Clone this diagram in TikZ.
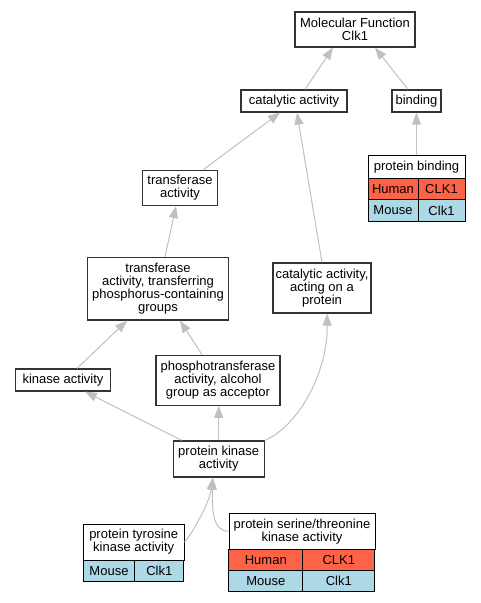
\documentclass[tikz,border=0pt]{standalone}
\usepackage{fontspec}
\setmainfont{Liberation Sans}
\usetikzlibrary{arrows.meta}
\definecolor{edgegray}{RGB}{192,192,192}
\definecolor{tomato}{RGB}{255,99,71}
\definecolor{lightblue}{RGB}{173,216,230}
\tikzset{
  term/.style={draw=black!80, line width=1.2pt, fill=white, align=center, inner sep=0pt, font=\fontsize{13}{13}\selectfont},
  cell/.style={draw=black, line width=1pt, inner sep=0pt, minimum height=21.3pt, font=\fontsize{13}{13}\selectfont},
  edge/.style={draw=edgegray, line width=1pt, -{Triangle[length=12pt,width=9pt]}},
}
\begin{document}
\begin{tikzpicture}[x=1pt,y=-1pt]
\useasboundingbox (0,0) rectangle (480,603);
\node[term, minimum width=120pt, minimum height=35pt] (0) at (355,29.5) {Molecular Function\\Clk1};
\node[term, minimum width=106pt, minimum height=22pt] (1) at (294,101) {catalytic activity};
\node[term, minimum width=49pt, minimum height=22pt] (2) at (416.5,101) {binding};
\node[term, minimum width=75pt, minimum height=35pt] (4) at (180,188) {transferase\\activity};
\node[term, minimum width=140.6pt, minimum height=62.7pt] (5) at (158,288.7) {transferase\\activity, transferring\\phosphorus-containing\\groups};
\node[term, minimum width=98pt, minimum height=50pt] (6) at (322,288) {catalytic activity,\\acting on a\\protein};
\node[term, minimum width=95pt, minimum height=22pt] (7) at (63,380) {kinase activity};
\node[term, minimum width=124pt, minimum height=50pt] (8) at (218,380.3) {phosphotransferase\\activity, alcohol\\group as acceptor};
\node[term, minimum width=91pt, minimum height=36pt] (9) at (218.7,459) {protein kinase\\activity};
% protein binding table
\node[term, draw=black, line width=1pt, minimum width=97pt, minimum height=24pt] (3) at (416.5,167) {protein binding};
\node[cell, fill=tomato, minimum width=50pt] (3a) at (393,189.5) {Human};
\node[cell, fill=tomato, minimum width=47pt] (3b) at (441.5,189.5) {CLK1};
\node[cell, fill=lightblue, minimum width=50pt] (3c) at (393,210.5) {Mouse};
\node[cell, fill=lightblue, minimum width=47pt] (3d) at (441.5,210.5) {Clk1};
% protein tyrosine kinase table
\node[term, draw=black, line width=1pt, minimum width=100.7pt, minimum height=36pt] (10) at (133.7,542) {protein tyrosine\\kinase activity};
\node[cell, fill=lightblue, minimum width=51.4pt] (10a) at (109,570.7) {Mouse};
\node[cell, fill=lightblue, minimum width=49.3pt] (10b) at (159.3,570.7) {Clk1};
% protein serine/threonine kinase table
\node[term, draw=black, line width=1pt, minimum width=146pt, minimum height=36pt] (11) at (302,531.3) {protein serine/threonine\\kinase activity};
\node[cell, fill=tomato, minimum width=73.7pt] (11a) at (265.8,560) {Human};
\node[cell, fill=tomato, minimum width=72.3pt] (11b) at (338.8,560) {CLK1};
\node[cell, fill=lightblue, minimum width=73.7pt] (11c) at (265.8,581.3) {Mouse};
\node[cell, fill=lightblue, minimum width=72.3pt] (11d) at (338.8,581.3) {Clk1};
% edges
\draw[edge] ([xshift=11pt]1.north)--([xshift=-22pt]0.south);
\draw[edge] ([xshift=-8.5pt]2.north)--([xshift=20pt]0.south);
\draw[edge] (3.north)--(2.south);
\draw[edge] ([xshift=23pt]4.north)--([xshift=-14pt]1.south);
\draw[edge] (6.north)--([xshift=3pt]1.south);
\draw[edge] ([xshift=7pt]5.north)--([xshift=-4pt]4.south);
\draw[edge] ([xshift=14pt]7.north)--([xshift=-31pt]5.south);
\draw[edge] ([xshift=-16pt]8.north)--([xshift=22pt]5.south);
\draw[edge] ([xshift=-37pt]9.north)--([xshift=22pt]7.south);
\draw[edge] (9.north)--(9.north |- 8.south);
\draw[edge] (9.north east) .. controls (300,425) and (328,370) .. ([xshift=5pt]6.south);
\draw[edge] (10.east) .. controls (196,528) and (210,500) .. ([xshift=-6pt]9.south);
\draw[edge] (11.west) .. controls (212,531) and (212,508) .. ([xshift=-6pt]9.south);
\end{tikzpicture}
\end{document}
